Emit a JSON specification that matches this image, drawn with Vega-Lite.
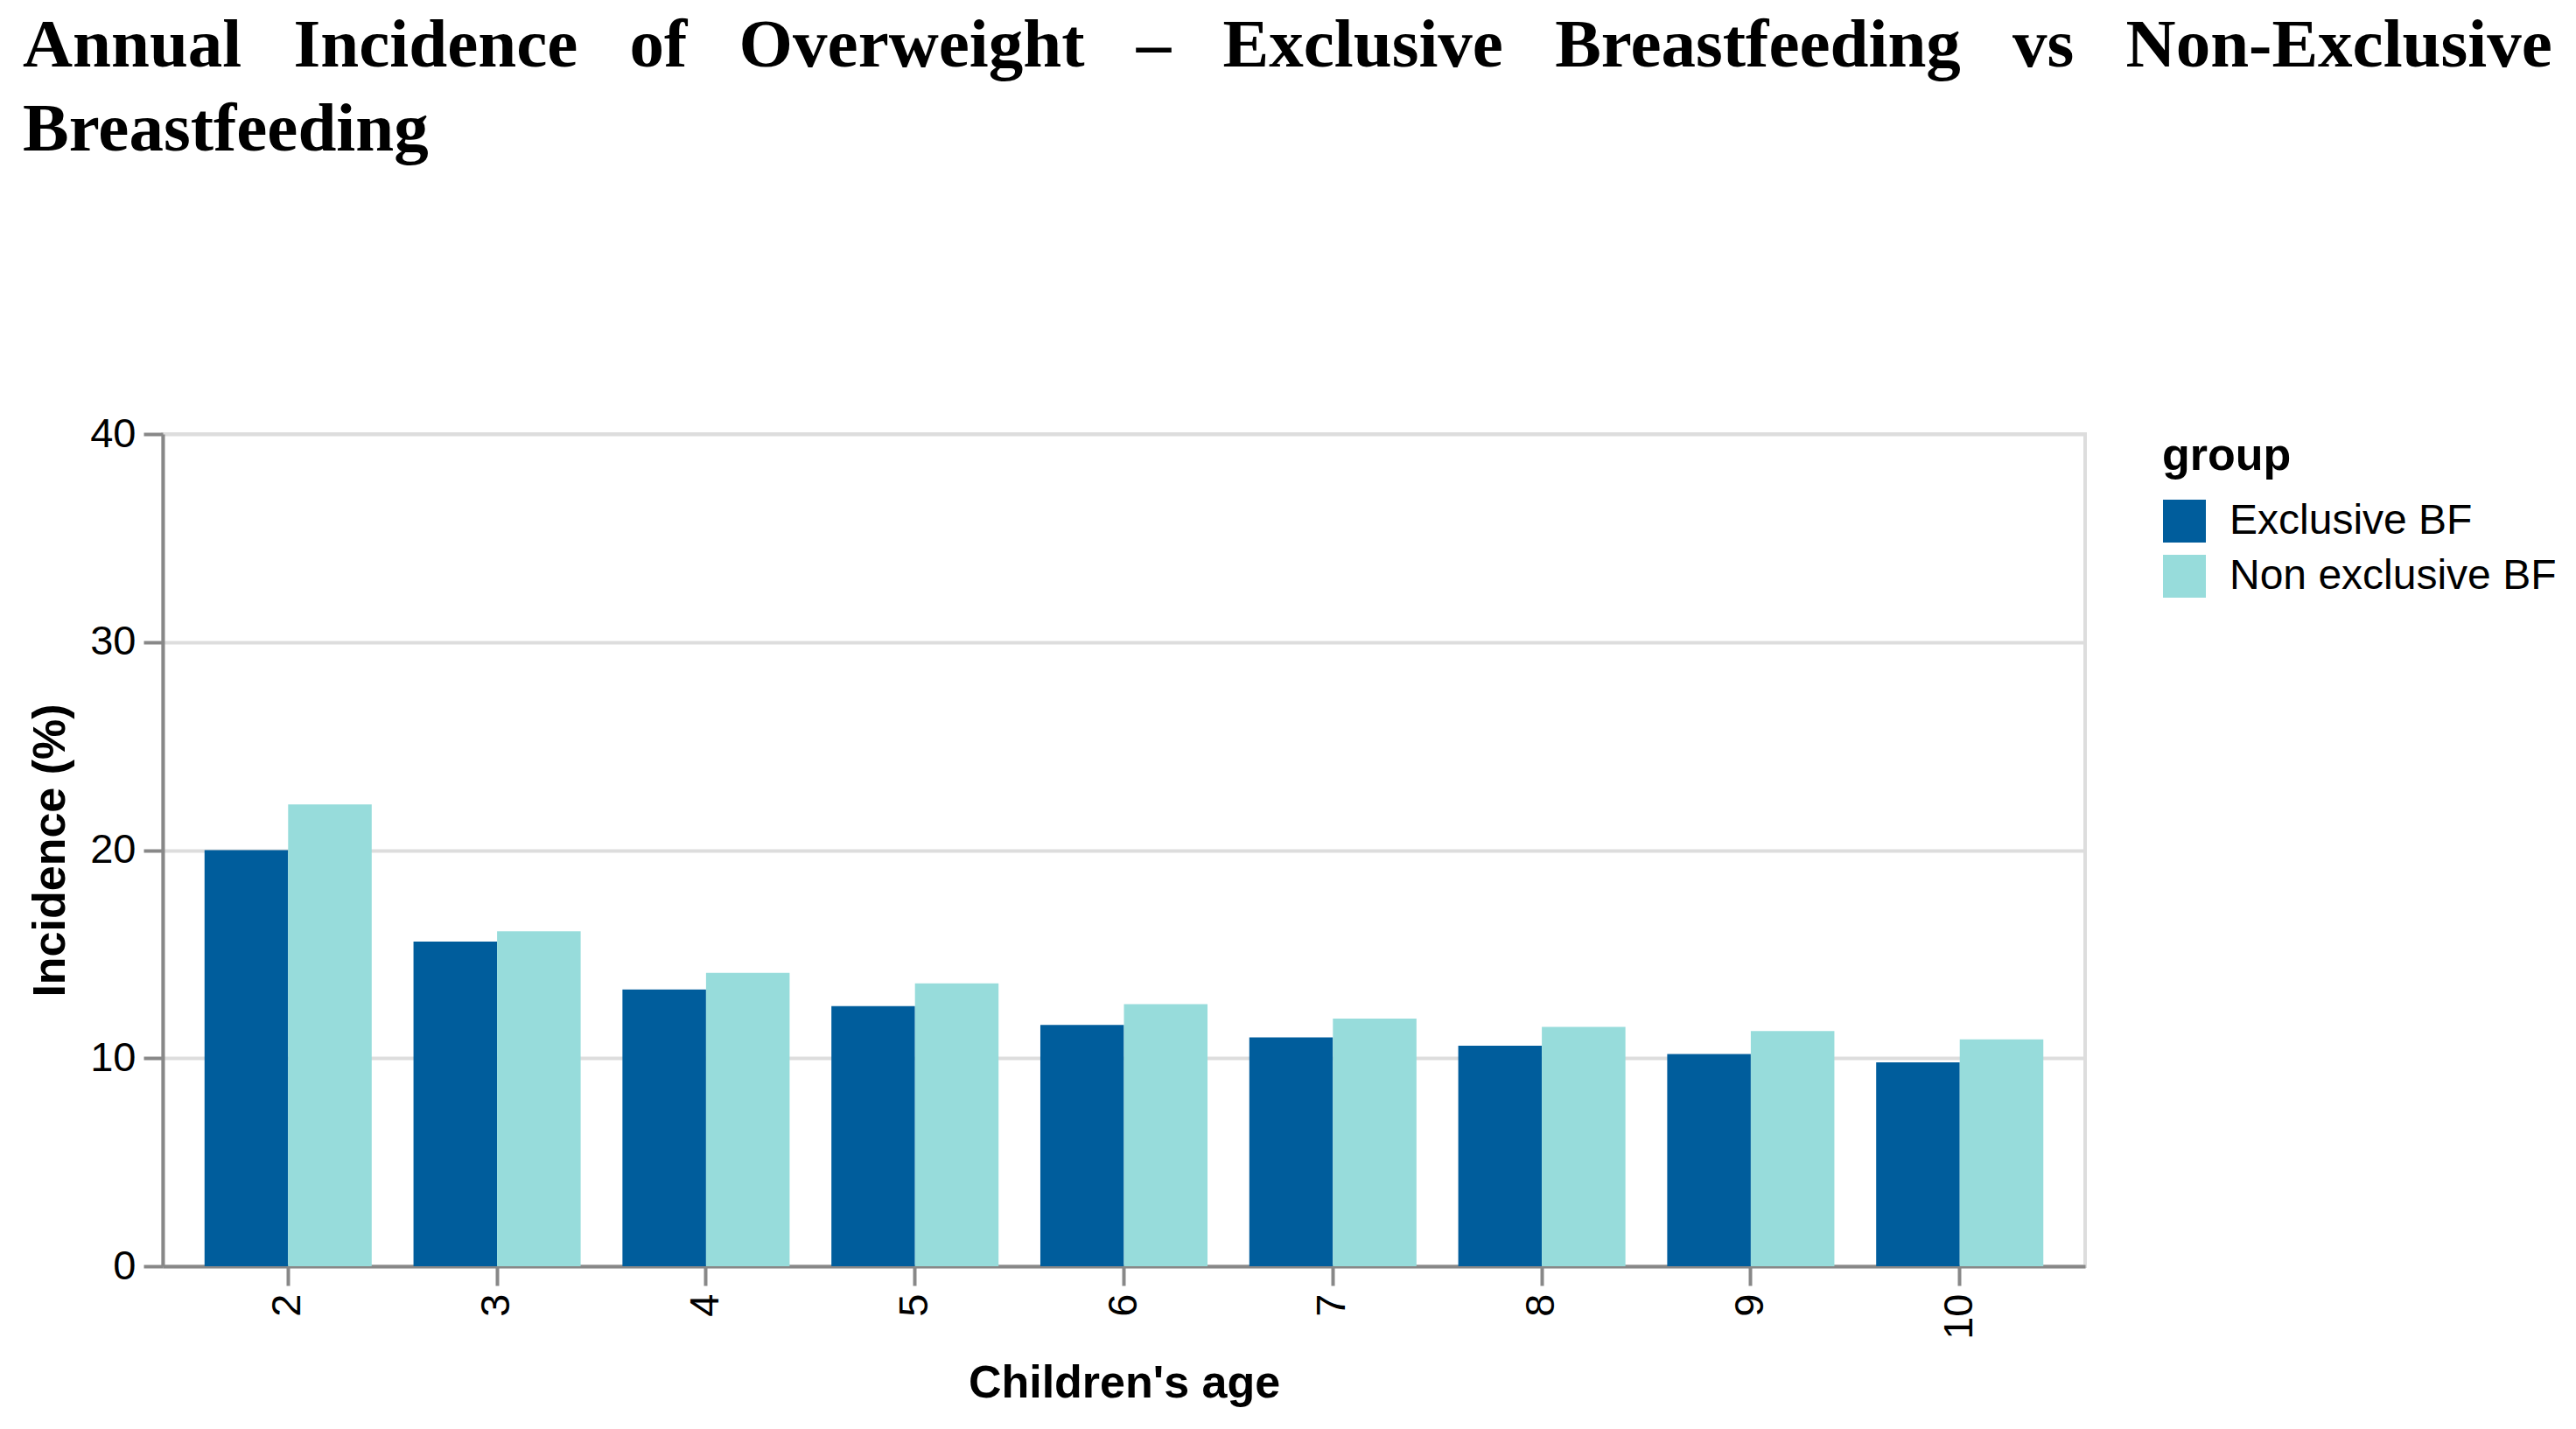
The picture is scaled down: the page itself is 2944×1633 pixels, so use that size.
{
  "$schema": "https://vega.github.io/schema/vega-lite/v6.json",
  "autosize": {"type": "none"},
  "width": 2197,
  "height": 951,
  "padding": {"left": 186, "top": 496, "right": 561, "bottom": 186},
  "title": {
    "text": [
      "Annual\u00a0\u00a0\u00a0Incidence\u00a0\u00a0\u00a0of\u00a0\u00a0\u00a0Overweight\u00a0\u00a0\u00a0–\u00a0\u00a0\u00a0Exclusive\u00a0\u00a0\u00a0Breastfeeding\u00a0\u00a0\u00a0vs\u00a0\u00a0\u00a0Non-Exclusive",
      "Breastfeeding"
    ],
    "anchor": "start",
    "frame": "group",
    "dx": -160,
    "offset": 283,
    "font": "Liberation Serif",
    "fontSize": 79,
    "fontWeight": "bold",
    "lineHeight": 96,
    "color": "black"
  },
  "data": {
    "values": [
      {"age": 2, "group": "Exclusive BF", "incidence": 20.0},
      {"age": 2, "group": "Non exclusive BF", "incidence": 22.2},
      {"age": 3, "group": "Exclusive BF", "incidence": 15.6},
      {"age": 3, "group": "Non exclusive BF", "incidence": 16.1},
      {"age": 4, "group": "Exclusive BF", "incidence": 13.3},
      {"age": 4, "group": "Non exclusive BF", "incidence": 14.1},
      {"age": 5, "group": "Exclusive BF", "incidence": 12.5},
      {"age": 5, "group": "Non exclusive BF", "incidence": 13.6},
      {"age": 6, "group": "Exclusive BF", "incidence": 11.6},
      {"age": 6, "group": "Non exclusive BF", "incidence": 12.6},
      {"age": 7, "group": "Exclusive BF", "incidence": 11.0},
      {"age": 7, "group": "Non exclusive BF", "incidence": 11.9},
      {"age": 8, "group": "Exclusive BF", "incidence": 10.6},
      {"age": 8, "group": "Non exclusive BF", "incidence": 11.5},
      {"age": 9, "group": "Exclusive BF", "incidence": 10.2},
      {"age": 9, "group": "Non exclusive BF", "incidence": 11.3},
      {"age": 10, "group": "Exclusive BF", "incidence": 9.8},
      {"age": 10, "group": "Non exclusive BF", "incidence": 10.9}
    ]
  },
  "mark": "bar",
  "encoding": {
    "x": {
      "field": "age",
      "type": "ordinal",
      "title": "Children's age",
      "scale": {"paddingInner": 0.2, "paddingOuter": 0.2},
      "axis": {"labelAngle": -90, "titlePadding": 25}
    },
    "xOffset": {"field": "group", "type": "nominal"},
    "y": {
      "field": "incidence",
      "type": "quantitative",
      "title": "Incidence (%)",
      "scale": {"domain": [0, 40]},
      "axis": {"values": [0, 10, 20, 30, 40]}
    },
    "color": {
      "field": "group",
      "type": "nominal",
      "title": "group",
      "scale": {
        "domain": ["Exclusive BF", "Non exclusive BF"],
        "range": ["#005d9c", "#97dcdb"]
      },
      "legend": {"symbolType": "square"}
    }
  },
  "config": {
    "font": "Liberation Sans",
    "view": {"stroke": "#ddd", "strokeWidth": 4},
    "axis": {
      "labelFontSize": 47,
      "titleFontSize": 52,
      "tickSize": 22,
      "tickWidth": 4,
      "domainWidth": 4,
      "gridWidth": 4,
      "labelPadding": 9,
      "titlePadding": 18,
      "domainColor": "#888",
      "tickColor": "#888",
      "gridColor": "#ddd",
      "labelColor": "black",
      "titleColor": "black"
    },
    "legend": {
      "labelFontSize": 48,
      "titleFontSize": 52,
      "labelLimit": 0,
      "symbolSize": 2400,
      "offset": 88,
      "rowPadding": 13,
      "labelOffset": 26,
      "titlePadding": 22,
      "labelColor": "black",
      "titleColor": "black"
    }
  }
}
